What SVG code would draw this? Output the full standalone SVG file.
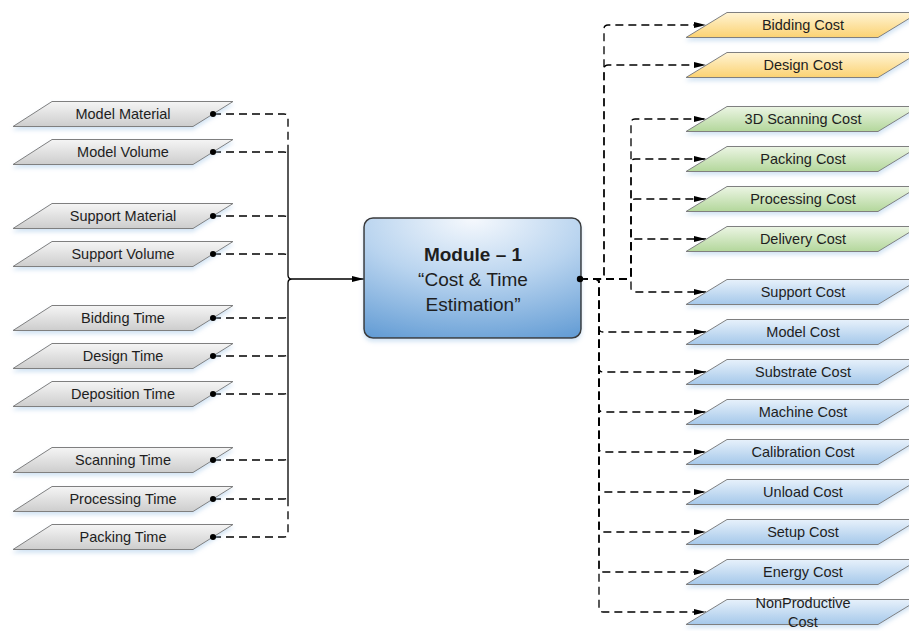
<svg xmlns="http://www.w3.org/2000/svg" xmlns:xlink="http://www.w3.org/1999/xlink" width="909" height="631" viewBox="0 0 909 631">
<style>
.lbl{font-family:"Liberation Sans",Arial,sans-serif;font-size:14.5px;fill:#1e1e1e;text-anchor:middle}
.ttl{font-family:"Liberation Sans",Arial,sans-serif;font-size:19px;fill:#1e1e1e;text-anchor:middle}
.sh{stroke:#7f7f7f;stroke-width:1;filter:url(#shadow)}
.gray{fill:url(#gGray)}
.yel{fill:url(#gYel)}
.grn{fill:url(#gGrn)}
.blu{fill:url(#gBlu)}
.dash{fill:none;stroke:#000;stroke-width:1.3;stroke-dasharray:8 5}
.solid{fill:none;stroke:#000;stroke-width:1.3}
.dot{fill:#000}
</style>
<defs>
<linearGradient id="gGray" x1="0" y1="0" x2="0" y2="1"><stop offset="0" stop-color="#f5f5f5"/><stop offset="1" stop-color="#cdcdcd"/></linearGradient>
<linearGradient id="gYel" x1="0" y1="0" x2="0" y2="1"><stop offset="0" stop-color="#fff4d4"/><stop offset="1" stop-color="#fbd272"/></linearGradient>
<linearGradient id="gGrn" x1="0" y1="0" x2="0" y2="1"><stop offset="0" stop-color="#ecf5e4"/><stop offset="1" stop-color="#b3d79b"/></linearGradient>
<linearGradient id="gBlu" x1="0" y1="0" x2="0" y2="1"><stop offset="0" stop-color="#e7f1fb"/><stop offset="1" stop-color="#a5c8ea"/></linearGradient>
<radialGradient id="gBox" cx="0.5" cy="0" r="1.15" fx="0.5" fy="0"><stop offset="0" stop-color="#f6f9fd"/><stop offset="0.45" stop-color="#b9d4ef"/><stop offset="1" stop-color="#5b97d2"/></radialGradient>
<filter id="shadow" x="-10%" y="-20%" width="120%" height="160%"><feDropShadow dx="0" dy="3" stdDeviation="2" flood-color="#9dc3e6" flood-opacity="0.45"/></filter>
<polygon id="pL" points="52,-12.5 233,-12.5 193,12.5 13,12.5"/>
<polygon id="pR" points="727,-12.5 919,-12.5 878,12.5 686,12.5"/>
<marker id="arr" markerUnits="userSpaceOnUse" markerWidth="13" markerHeight="8" refX="12" refY="4" orient="auto"><path d="M0,1 L12,4 L0,7 z" fill="#000"/></marker>
</defs>

<g id="connectors">
<path class="dash" d="M213,114 H284 Q288,114 288,118 V152"/>
<path class="dash" d="M213,152 H284 Q288,152 288,156"/>
<path class="dash" d="M213,216 H284 Q288,216 288,220"/>
<path class="dash" d="M213,254 H284 Q288,254 288,258"/>
<path class="dash" d="M213,318 H284 Q288,318 288,314"/>
<path class="dash" d="M213,356 H284 Q288,356 288,352"/>
<path class="dash" d="M213,394 H284 Q288,394 288,390"/>
<path class="dash" d="M213,460 H284 Q288,460 288,456"/>
<path class="dash" d="M213,499 H284 Q288,499 288,495"/>
<path class="dash" d="M213,537 H284 Q288,537 288,533 V499"/>
<path class="solid" d="M288,152 V275 Q288,279 292,279 M288,499 V283 Q288,279 292,279 H364" marker-end="url(#arr)"/>

<path class="dash" d="M580,279 H600 Q604,279 604,275 V29 Q604,25 608,25 H706" marker-end="url(#arr)"/>
<path class="dash" d="M580,279 H600 Q604,279 604,275 V69 Q604,65 608,65 H706" marker-end="url(#arr)"/>
<path class="dash" d="M580,279 H627 Q631,279 631,275 V123 Q631,119 635,119 H706" marker-end="url(#arr)"/>
<path class="dash" d="M580,279 H627 Q631,279 631,275 V163 Q631,159 635,159 H706" marker-end="url(#arr)"/>
<path class="dash" d="M580,279 H627 Q631,279 631,275 V203 Q631,199 635,199 H706" marker-end="url(#arr)"/>
<path class="dash" d="M580,279 H627 Q631,279 631,275 V243 Q631,239 635,239 H706" marker-end="url(#arr)"/>
<path class="dash" d="M580,279 H627 Q631,279 631,283 V288 Q631,292 635,292 H706" marker-end="url(#arr)"/>
<path class="dash" d="M580,279 H595 Q599,279 599,283 V328 Q599,332 603,332 H706" marker-end="url(#arr)"/>
<path class="dash" d="M580,279 H595 Q599,279 599,283 V368 Q599,372 603,372 H706" marker-end="url(#arr)"/>
<path class="dash" d="M580,279 H595 Q599,279 599,283 V408 Q599,412 603,412 H706" marker-end="url(#arr)"/>
<path class="dash" d="M580,279 H595 Q599,279 599,283 V448 Q599,452 603,452 H706" marker-end="url(#arr)"/>
<path class="dash" d="M580,279 H595 Q599,279 599,283 V488 Q599,492 603,492 H706" marker-end="url(#arr)"/>
<path class="dash" d="M580,279 H595 Q599,279 599,283 V528 Q599,532 603,532 H706" marker-end="url(#arr)"/>
<path class="dash" d="M580,279 H595 Q599,279 599,283 V568 Q599,572 603,572 H706" marker-end="url(#arr)"/>
<path class="dash" d="M580,279 H595 Q599,279 599,283 V608 Q599,612 603,612 H706" marker-end="url(#arr)"/>
</g>

<g id="module1">
<rect x="364" y="218" width="217" height="120" rx="9" fill="url(#gBox)" stroke="#3a3a3a" stroke-width="1.5" filter="url(#shadow)"/>
<text class="ttl" x="473" y="261" font-weight="bold">Module – 1</text>
<text class="ttl" x="473" y="286">“Cost &amp; Time</text>
<text class="ttl" x="473" y="311">Estimation”</text>
<circle class="dot" cx="580" cy="279" r="3.2"/>
</g>

<g id="model-material" transform="translate(0,114)"><use href="#pL" class="sh gray"/><text class="lbl" x="123" y="5">Model Material</text><circle class="dot" cx="213" cy="0" r="3"/></g>
<g id="model-volume" transform="translate(0,152)"><use href="#pL" class="sh gray"/><text class="lbl" x="123" y="5">Model Volume</text><circle class="dot" cx="213" cy="0" r="3"/></g>
<g id="support-material" transform="translate(0,216)"><use href="#pL" class="sh gray"/><text class="lbl" x="123" y="5">Support Material</text><circle class="dot" cx="213" cy="0" r="3"/></g>
<g id="support-volume" transform="translate(0,254)"><use href="#pL" class="sh gray"/><text class="lbl" x="123" y="5">Support Volume</text><circle class="dot" cx="213" cy="0" r="3"/></g>
<g id="bidding-time" transform="translate(0,318)"><use href="#pL" class="sh gray"/><text class="lbl" x="123" y="5">Bidding Time</text><circle class="dot" cx="213" cy="0" r="3"/></g>
<g id="design-time" transform="translate(0,356)"><use href="#pL" class="sh gray"/><text class="lbl" x="123" y="5">Design Time</text><circle class="dot" cx="213" cy="0" r="3"/></g>
<g id="deposition-time" transform="translate(0,394)"><use href="#pL" class="sh gray"/><text class="lbl" x="123" y="5">Deposition Time</text><circle class="dot" cx="213" cy="0" r="3"/></g>
<g id="scanning-time" transform="translate(0,460)"><use href="#pL" class="sh gray"/><text class="lbl" x="123" y="5">Scanning Time</text><circle class="dot" cx="213" cy="0" r="3"/></g>
<g id="processing-time" transform="translate(0,499)"><use href="#pL" class="sh gray"/><text class="lbl" x="123" y="5">Processing Time</text><circle class="dot" cx="213" cy="0" r="3"/></g>
<g id="packing-time" transform="translate(0,537)"><use href="#pL" class="sh gray"/><text class="lbl" x="123" y="5">Packing Time</text><circle class="dot" cx="213" cy="0" r="3"/></g>

<g id="bidding-cost" transform="translate(0,25)"><use href="#pR" class="sh yel"/><text class="lbl" x="803" y="5">Bidding Cost</text></g>
<g id="design-cost" transform="translate(0,65)"><use href="#pR" class="sh yel"/><text class="lbl" x="803" y="5">Design Cost</text></g>
<g id="scanning-cost" transform="translate(0,119)"><use href="#pR" class="sh grn"/><text class="lbl" x="803" y="5">3D Scanning Cost</text></g>
<g id="packing-cost" transform="translate(0,159)"><use href="#pR" class="sh grn"/><text class="lbl" x="803" y="5">Packing Cost</text></g>
<g id="processing-cost" transform="translate(0,199)"><use href="#pR" class="sh grn"/><text class="lbl" x="803" y="5">Processing Cost</text></g>
<g id="delivery-cost" transform="translate(0,239)"><use href="#pR" class="sh grn"/><text class="lbl" x="803" y="5">Delivery Cost</text></g>
<g id="support-cost" transform="translate(0,292)"><use href="#pR" class="sh blu"/><text class="lbl" x="803" y="5">Support Cost</text></g>
<g id="model-cost" transform="translate(0,332)"><use href="#pR" class="sh blu"/><text class="lbl" x="803" y="5">Model Cost</text></g>
<g id="substrate-cost" transform="translate(0,372)"><use href="#pR" class="sh blu"/><text class="lbl" x="803" y="5">Substrate Cost</text></g>
<g id="machine-cost" transform="translate(0,412)"><use href="#pR" class="sh blu"/><text class="lbl" x="803" y="5">Machine Cost</text></g>
<g id="calibration-cost" transform="translate(0,452)"><use href="#pR" class="sh blu"/><text class="lbl" x="803" y="5">Calibration Cost</text></g>
<g id="unload-cost" transform="translate(0,492)"><use href="#pR" class="sh blu"/><text class="lbl" x="803" y="5">Unload Cost</text></g>
<g id="setup-cost" transform="translate(0,532)"><use href="#pR" class="sh blu"/><text class="lbl" x="803" y="5">Setup Cost</text></g>
<g id="energy-cost" transform="translate(0,572)"><use href="#pR" class="sh blu"/><text class="lbl" x="803" y="5">Energy Cost</text></g>
<g id="nonproductive-cost" transform="translate(0,612)"><use href="#pR" class="sh blu"/><text class="lbl" x="803" y="-4">NonProductive</text><text class="lbl" x="803" y="15">Cost</text></g>
</svg>
